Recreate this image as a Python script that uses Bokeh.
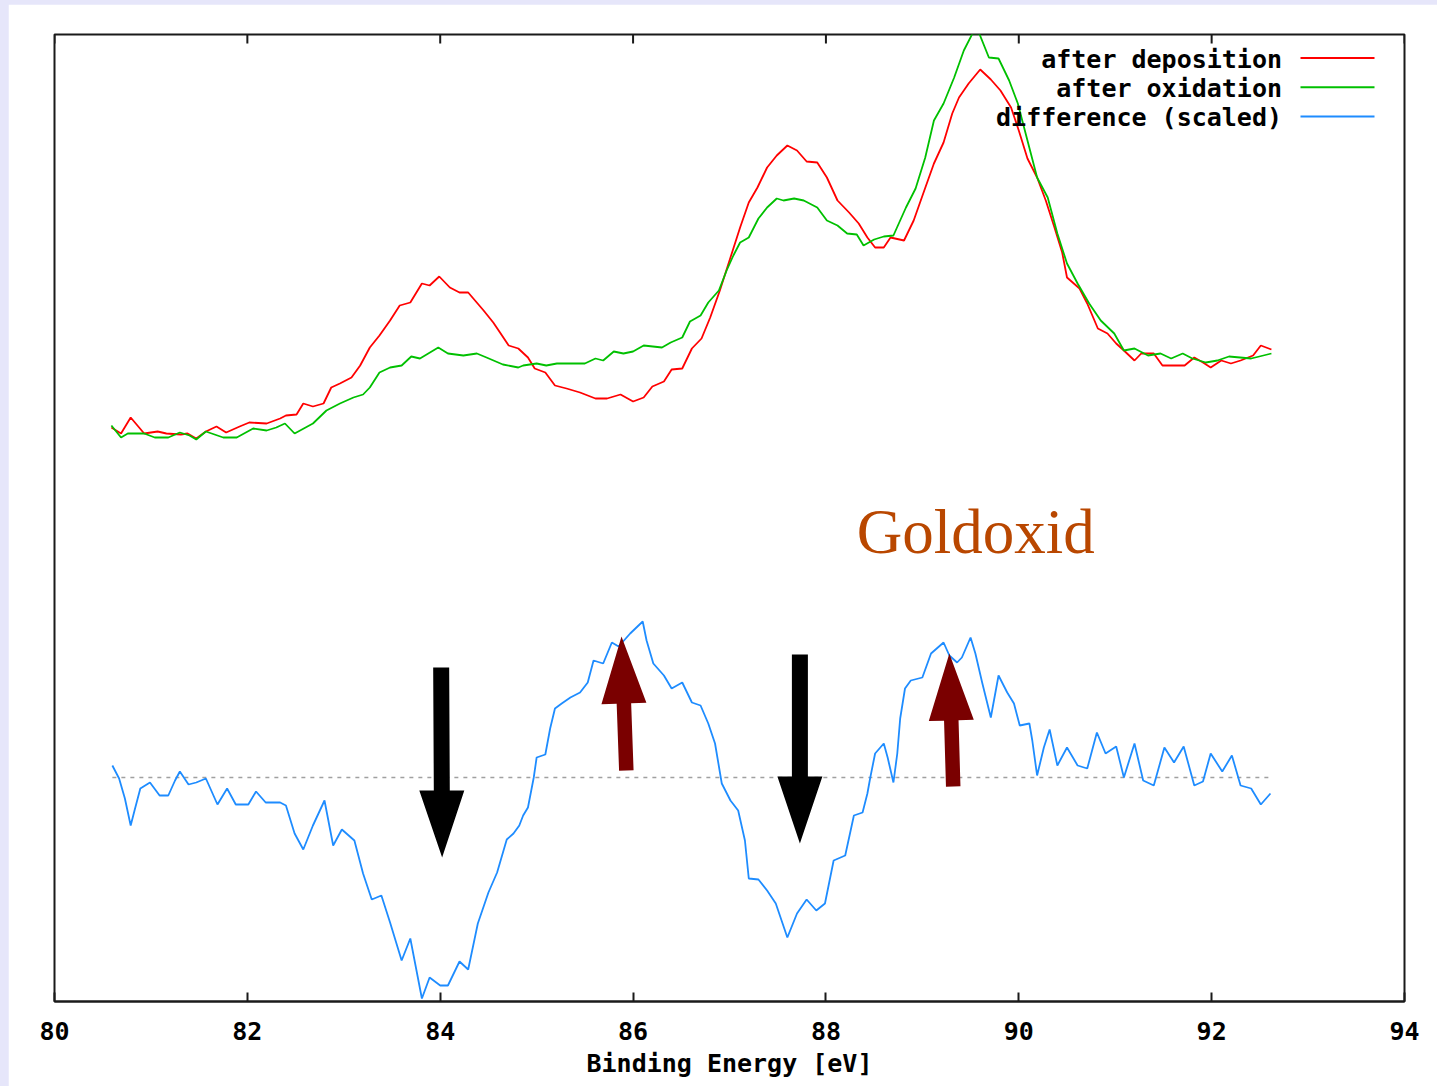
import math
from bokeh.plotting import figure
from bokeh.models import Range1d, FixedTicker, Label
from bokeh.core.properties import value
from bokeh.embed import file_html
from bokeh.resources import INLINE

# ---------------- data ----------------
energy_red = [80.59, 80.69, 80.79, 80.86, 80.93, 81.07, 81.16, 81.31, 81.38, 81.47,
              81.57, 81.68, 81.78, 81.92, 82.02, 82.20, 82.34, 82.40, 82.51, 82.58,
              82.68, 82.79, 82.87, 82.96, 83.08, 83.17, 83.27, 83.37, 83.48, 83.58,
              83.69, 83.81, 83.89, 83.99, 84.10, 84.20, 84.29, 84.45, 84.55, 84.62,
              84.71, 84.81, 84.91, 84.98, 85.09, 85.19, 85.31, 85.45, 85.61, 85.73,
              85.87, 86.00, 86.11, 86.20, 86.32, 86.40, 86.51, 86.61, 86.71, 86.80,
              86.90, 87.01, 87.11, 87.20, 87.29, 87.39, 87.49, 87.60, 87.70, 87.80,
              87.91, 88.01, 88.12, 88.24, 88.34, 88.43, 88.51, 88.60, 88.67, 88.81,
              88.91, 89.02, 89.12, 89.22, 89.31, 89.38, 89.48, 89.60, 89.71, 89.81,
              89.92, 90.00, 90.09, 90.19, 90.28, 90.37, 90.45, 90.50, 90.63, 90.71,
              90.82, 90.92, 91.01, 91.09, 91.20, 91.27, 91.40, 91.49, 91.72, 91.82,
              91.91, 91.99, 92.10, 92.20, 92.30, 92.43, 92.51, 92.62]
intensity_red = [57.4, 56.8, 58.4, 57.6, 56.8, 57.0, 56.8, 56.7, 56.8, 56.3,
                 57.0, 57.5, 56.9, 57.5, 57.9, 57.8, 58.3, 58.6, 58.7, 59.8,
                 59.5, 59.8, 61.4, 61.8, 62.4, 63.6, 65.4, 66.6, 68.1, 69.6,
                 69.9, 71.8, 71.6, 72.5, 71.4, 70.9, 70.9, 69.1, 67.9, 66.9,
                 65.6, 65.3, 64.4, 63.3, 62.9, 61.6, 61.3, 60.9, 60.3, 60.3,
                 60.7, 60.0, 60.4, 61.5, 62.0, 63.2, 63.3, 65.3, 66.3, 68.4,
                 71.1, 74.4, 77.4, 79.9, 81.4, 83.4, 84.6, 85.6, 85.1, 84.0,
                 83.9, 82.4, 80.1, 78.9, 77.8, 76.4, 75.4, 75.4, 76.4, 76.1,
                 78.1, 81.1, 83.8, 85.9, 88.8, 90.4, 91.8, 93.2, 92.2, 91.1,
                 89.4, 87.1, 84.3, 82.4, 80.1, 77.4, 74.9, 72.4, 71.3, 69.8,
                 67.3, 66.8, 65.8, 65.1, 64.1, 64.8, 64.8, 63.6, 63.6, 64.4,
                 63.9, 63.4, 64.1, 63.8, 64.1, 64.6, 65.6, 65.2]

energy_green = [80.59, 80.69, 80.76, 80.93, 81.04, 81.18, 81.30, 81.40, 81.47, 81.57,
                81.75, 81.89, 82.06, 82.20, 82.30, 82.39, 82.49, 82.68, 82.82, 82.96,
                83.10, 83.20, 83.27, 83.37, 83.48, 83.60, 83.70, 83.79, 83.98, 84.08,
                84.24, 84.38, 84.48, 84.65, 84.81, 84.86, 85.00, 85.10, 85.21, 85.50,
                85.61, 85.69, 85.80, 85.90, 86.00, 86.11, 86.30, 86.39, 86.51, 86.59,
                86.70, 86.78, 86.89, 86.97, 87.04, 87.11, 87.20, 87.30, 87.39, 87.49,
                87.56, 87.67, 87.77, 87.91, 88.01, 88.12, 88.22, 88.32, 88.39, 88.50,
                88.60, 88.70, 88.83, 88.93, 89.03, 89.12, 89.22, 89.33, 89.43, 89.52,
                89.59, 89.69, 89.79, 89.90, 89.99, 90.09, 90.19, 90.30, 90.40, 90.50,
                90.61, 90.73, 90.85, 90.99, 91.09, 91.20, 91.34, 91.47, 91.58, 91.70,
                91.80, 91.94, 92.06, 92.18, 92.41, 92.62]
intensity_green = [57.6, 56.4, 56.8, 56.8, 56.4, 56.4, 56.9, 56.6, 56.2, 57.0,
                   56.4, 56.4, 57.3, 57.1, 57.4, 57.8, 56.8, 57.8, 59.1, 59.8,
                   60.4, 60.7, 61.4, 62.9, 63.4, 63.6, 64.5, 64.3, 65.4, 64.8,
                   64.6, 64.8, 64.4, 63.7, 63.4, 63.6, 63.8, 63.6, 63.8, 63.8,
                   64.3, 64.1, 65.0, 64.8, 65.0, 65.6, 65.4, 65.9, 66.4, 68.0,
                   68.6, 69.9, 71.1, 73.1, 74.6, 75.9, 76.4, 78.3, 79.4, 80.3,
                   80.1, 80.3, 80.1, 79.4, 78.1, 77.6, 76.8, 76.7, 75.6, 76.2,
                   76.5, 76.6, 79.4, 81.3, 84.4, 88.1, 89.8, 92.4, 95.1, 96.8,
                   96.8, 94.4, 94.3, 92.1, 89.8, 86.1, 82.4, 80.4, 76.8, 73.8,
                   71.8, 69.8, 68.1, 66.8, 65.1, 65.3, 64.6, 64.8, 64.3, 64.8,
                   64.3, 63.9, 64.1, 64.5, 64.3, 64.8]

energy_diff = [80.60, 80.67, 80.73, 80.79, 80.83, 80.89, 80.99, 81.09, 81.18, 81.25,
               81.30, 81.39, 81.47, 81.57, 81.69, 81.79, 81.88, 82.01, 82.09, 82.19,
               82.34, 82.40, 82.49, 82.58, 82.68, 82.80, 82.89, 82.98, 83.11, 83.20,
               83.29, 83.39, 83.48, 83.60, 83.69, 83.81, 83.89, 84.00, 84.08, 84.20,
               84.29, 84.39, 84.50, 84.59, 84.69, 84.76, 84.82, 84.86, 84.91, 84.97,
               85.00, 85.09, 85.14, 85.19, 85.26, 85.35, 85.45, 85.53, 85.59, 85.69,
               85.78, 85.85, 85.97, 86.10, 86.14, 86.21, 86.32, 86.40, 86.51, 86.61,
               86.70, 86.78, 86.85, 86.92, 87.01, 87.09, 87.16, 87.20, 87.30, 87.39,
               87.48, 87.60, 87.70, 87.80, 87.90, 87.99, 88.08, 88.20, 88.29, 88.38,
               88.43, 88.46, 88.51, 88.60, 88.64, 88.70, 88.74, 88.77, 88.82, 88.88,
               89.00, 89.09, 89.22, 89.28, 89.36, 89.41, 89.50, 89.55, 89.62, 89.71,
               89.79, 89.88, 89.95, 90.01, 90.11, 90.14, 90.19, 90.26, 90.32, 90.40,
               90.50, 90.61, 90.71, 90.81, 90.90, 91.01, 91.09, 91.20, 91.29, 91.40,
               91.51, 91.61, 91.71, 91.82, 91.91, 91.99, 92.11, 92.21, 92.30, 92.41,
               92.51, 92.61]
intensity_diff = [23.6, 22.3, 20.3, 17.6, 19.1, 21.3, 21.9, 20.6, 20.6, 22.1,
                  23.0, 21.7, 21.9, 22.3, 19.7, 21.3, 19.7, 19.7, 21.0, 19.9,
                  19.9, 19.6, 16.8, 15.2, 17.6, 20.1, 15.6, 17.2, 16.1, 12.8,
                  10.2, 10.6, 7.9, 4.1, 6.3, 0.3, 2.4, 1.6, 1.6, 4.0,
                  3.2, 7.8, 10.9, 12.9, 16.2, 16.8, 17.6, 18.6, 19.4, 22.4,
                  24.4, 24.7, 27.3, 29.3, 29.8, 30.4, 30.9, 31.9, 34.1, 33.8,
                  35.9, 35.5, 36.8, 38.0, 36.1, 33.8, 32.6, 31.3, 31.9, 29.9,
                  29.6, 27.8, 25.8, 21.8, 20.1, 19.1, 16.1, 12.3, 12.2, 11.1,
                  9.8, 6.4, 8.8, 10.2, 9.1, 9.8, 14.1, 14.6, 18.6, 18.9,
                  20.8, 22.4, 24.8, 25.8, 24.4, 21.9, 24.8, 28.3, 31.3, 32.1,
                  32.4, 34.8, 35.9, 34.6, 33.9, 34.4, 36.4, 34.8, 31.9, 28.4,
                  32.6, 30.9, 29.8, 27.6, 27.8, 26.1, 22.6, 25.4, 27.2, 23.6,
                  25.4, 23.6, 23.3, 26.9, 24.8, 25.5, 22.4, 25.8, 22.1, 21.6,
                  25.4, 23.9, 25.5, 21.6, 22.0, 24.8, 23.0, 24.6, 21.6, 21.3,
                  19.7, 20.8]
diff_baseline = 22.4

x_ticks = [80, 82, 84, 86, 88, 90, 92, 94]
series_labels = ["after deposition", "after oxidation", "difference (scaled)"]
series_colors = ["#ff0000", "#00c000", "#1e8cff"]
x_label = "Binding Energy [eV]"
annotation_text = "Goldoxid"

# annotation arrows: (tail energy, tail intensity, tip energy, tip intensity)
arrows_down = [(84.01, 33.4, 84.02, 14.4), (87.73, 34.7, 87.73, 15.8)]
arrows_up = [(85.93, 23.1, 85.88, 36.5), (89.32, 21.5, 89.28, 34.8)]

# ---------------- figure ----------------
X0, X1 = 80, 94
Y0, Y1 = 0, 96.7
FW, FH = 1350, 967
SX = FW / (X1 - X0)
SY = FH / (Y1 - Y0)
MONO = "DejaVu Sans Mono"
DARK = "#1a1a1a"

p = figure(width=1429, height=1082,
           x_range=Range1d(X0, X1), y_range=Range1d(Y0, Y1),
           output_backend="svg", toolbar_location=None,
           y_axis_location=None,
           min_border_left=46, min_border_right=33,
           min_border_top=30, min_border_bottom=85,
           margin=(4, 0, 0, 8))
p.background_fill_color = "white"
p.border_fill_color = "white"
p.outline_line_color = DARK
p.outline_line_width = 2
p.xgrid.visible = False
p.ygrid.visible = False

xa = p.xaxis[0]
xa.ticker = FixedTicker(ticks=x_ticks)
xa.minor_tick_line_color = None
xa.major_tick_in = 9
xa.major_tick_out = 0
xa.major_tick_line_width = 2
xa.major_tick_line_color = DARK
xa.axis_line_color = DARK
xa.axis_line_width = 2
xa.major_label_text_font = MONO
xa.major_label_text_font_style = "bold"
xa.major_label_text_font_size = "25px"
xa.major_label_text_color = "black"
xa.major_label_standoff = 20
xa.axis_label = x_label
xa.axis_label_text_font = MONO
xa.axis_label_text_font_style = "bold"
xa.axis_label_text_font_size = "25px"
xa.axis_label_text_color = "black"
xa.axis_label_standoff = 6

# mirrored tick marks on the top edge of the frame
p.segment(x0=x_ticks, y0=[Y1 - 9 / SY] * len(x_ticks), x1=x_ticks, y1=[Y1] * len(x_ticks),
          line_color=DARK, line_width=2)

# zero line of the difference curve
p.line([energy_diff[0], energy_diff[-1]], [diff_baseline, diff_baseline],
       line_color="#a0a0a0", line_width=1.6, line_dash="4 5")

# spectra
p.line(energy_red, intensity_red, line_color=series_colors[0], line_width=1.8)
p.line(energy_green, intensity_green, line_color=series_colors[1], line_width=1.8)
p.line(energy_diff, intensity_diff, line_color=series_colors[2], line_width=1.8)

# legend (gnuplot style: right-aligned text, sample line to the right)
leg_text_x = X1 - 122.5 / SX
leg_line_x0 = X1 - 104 / SX
leg_line_x1 = X1 - 30 / SX
leg_mid_y = Y1 - 25 / SY
leg_step = 29.2 / SY
for k, (lab, col) in enumerate(zip(series_labels, series_colors)):
    ym = leg_mid_y - k * leg_step
    p.text([leg_text_x], [ym], text=[lab], text_font=value(MONO),
           text_font_style="bold", text_font_size="25px", text_color="black",
           text_align="right", text_baseline="middle")
    p.line([leg_line_x0, leg_line_x1], [ym + 1.5 / SY] * 2, line_color=col, line_width=2)


def arrow_patch(x0, y0, x1, y1, shaft, head_w, head_len):
    ax, ay = (x0 - X0) * SX, (y0 - Y0) * SY
    bx, by = (x1 - X0) * SX, (y1 - Y0) * SY
    dx, dy = bx - ax, by - ay
    L = math.hypot(dx, dy)
    ux, uy = dx / L, dy / L
    nx, ny = -uy, ux
    cx, cy = bx - ux * head_len, by - uy * head_len
    pts = [(ax + nx * shaft / 2, ay + ny * shaft / 2),
           (cx + nx * shaft / 2, cy + ny * shaft / 2),
           (cx + nx * head_w / 2, cy + ny * head_w / 2),
           (bx, by),
           (cx - nx * head_w / 2, cy - ny * head_w / 2),
           (cx - nx * shaft / 2, cy - ny * shaft / 2),
           (ax - nx * shaft / 2, ay - ny * shaft / 2)]
    return ([X0 + q[0] / SX for q in pts], [Y0 + q[1] / SY for q in pts])


bxs, bys = zip(*[arrow_patch(*a, 16, 45, 67) for a in arrows_down])
p.patches(list(bxs), list(bys), fill_color="black", line_color=None)
rxs, rys = zip(*[arrow_patch(*a, 14.5, 45, 67) for a in arrows_up])
p.patches(list(rxs), list(rys), fill_color="#7a0000", line_color=None)

p.add_layout(Label(x=88.32, y=47.0, text=annotation_text,
                   text_font="Liberation Serif", text_font_size="63px",
                   text_color="#b94700", text_baseline="alphabetic"))

html = file_html(p, INLINE, title="Goldoxid XPS")
html = html.replace("</head>",
                    "<style>html, body {margin:0; padding:0; background:#e6e6fa;}</style></head>", 1)
open("out.html", "w").write(html)
